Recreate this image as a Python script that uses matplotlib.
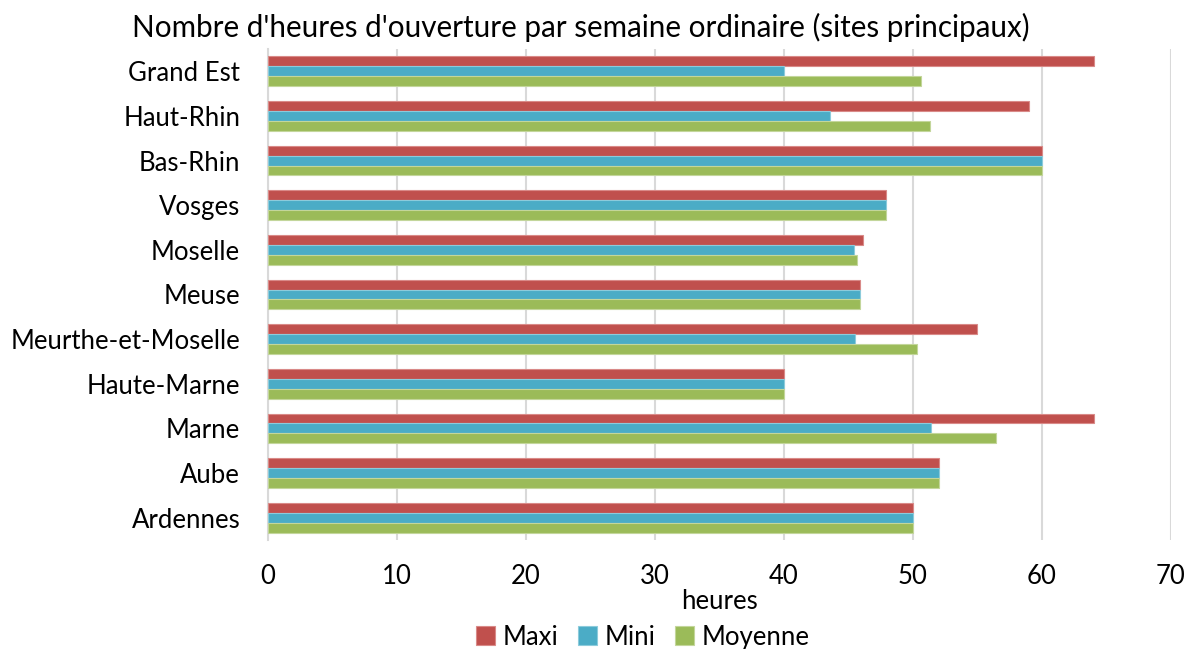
import numpy as np
import matplotlib.pyplot as plt

plt.rcParams['font.family'] = ['Lato', 'DejaVu Sans']

# categories from bottom to top
departements = ['Ardennes', 'Aube', 'Marne', 'Haute-Marne', 'Meurthe-et-Moselle',
                'Meuse', 'Moselle', 'Vosges', 'Bas-Rhin', 'Haut-Rhin', 'Grand Est']
maxi = [50, 52, 64, 40, 55, 45.9, 46.1, 47.9, 60, 59, 64]
mini = [50, 52, 51.4, 40, 45.5, 45.9, 45.4, 47.9, 60, 43.6, 40]
moyenne = [50, 52, 56.4, 40, 50.3, 45.9, 45.7, 47.9, 60, 51.3, 50.6]

series = [('Maxi', maxi, '#C0504D', '#D98A88'),
          ('Mini', mini, '#4BACC6', '#8CCBDB'),
          ('Moyenne', moyenne, '#9BBB59', '#C3D69B')]

fig = plt.figure(figsize=(11.99, 6.49), dpi=100)
ax = fig.add_axes([0.2235, 0.168, 0.7531, 0.7565])

y = np.arange(len(departements))
h = 0.222
offsets = [h, 0, -h]
for (name, vals, col, edge), off in zip(series, offsets):
    ax.barh(y + off, vals, height=h, color=col, edgecolor=edge, linewidth=0.8,
            label=name, zorder=3)

ax.set_xlim(0, 70)
ax.set_ylim(-0.5, len(departements) - 0.5)
ax.set_xticks(range(0, 71, 10))
ax.set_yticks(y)
ax.set_yticklabels(departements)
ax.tick_params(axis='both', length=0, labelsize=18.5, colors='black')
ax.tick_params(axis='y', pad=20)
ax.tick_params(axis='x', pad=17)
ax.grid(axis='x', color='#D9D9D9', linewidth=1.5, zorder=0)
for s in ['top', 'right', 'bottom']:
    ax.spines[s].set_visible(False)
ax.spines['left'].set_color('#D9D9D9')
ax.spines['left'].set_linewidth(1.5)

ax.set_xlabel('heures', fontsize=18.5, labelpad=0)
fig.text(0.4846, 0.958, "Nombre d'heures d'ouverture par semaine ordinaire (sites principaux)",
         ha='center', va='center', fontsize=21.3)

fig.legend(loc='center', bbox_to_anchor=(0.536, 0.018), ncol=3, frameon=False,
           fontsize=18.5, handlelength=0.75, handleheight=0.75, handletextpad=0.3,
           columnspacing=0.75)

fig.savefig('out.png', dpi=100)
